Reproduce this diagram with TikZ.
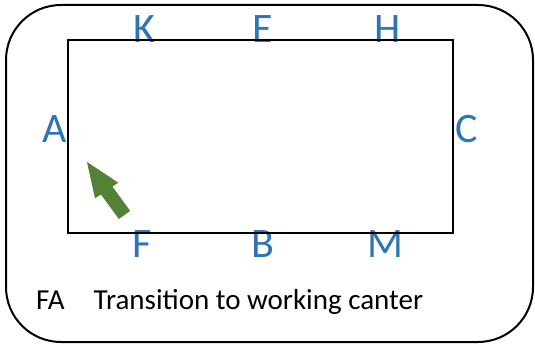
\documentclass[tikz,border=0pt]{standalone}
\usepackage{fontspec}
\setmainfont{Carlito}
\definecolor{letterblue}{HTML}{2E75B6}
\definecolor{arrowgreen}{HTML}{548235}
\begin{document}
\begin{tikzpicture}[x=1pt,y=-1pt,
  markerletter/.style={inner sep=0pt,anchor=base,text=letterblue,font=\fontsize{42}{42}\selectfont},
  captiontext/.style={inner sep=0pt,anchor=base west,text=black,font=\fontsize{29}{29}\selectfont}]
\useasboundingbox (0,0) rectangle (535,344);
\draw[line width=2pt,rounded corners=55pt] (6,5) rectangle (533,342);
% letters
\node[markerletter] (K) at (144,43) {K};
\node[markerletter] (E) at (262.5,43) {E};
\node[markerletter] (H) at (387.5,43) {H};
\node[markerletter] (A) at (54.5,143) {A};
\node[markerletter] (C) at (467,143) {C};
\node[markerletter] (F) at (142.5,258) {F};
\node[markerletter] (B) at (263,258) {B};
\node[markerletter] (M) at (385,258) {M};
% arena
\draw[line width=2.5pt] (68,40) rectangle (453,233);
% arrow
\fill[arrowgreen] (87,162) -- (118.3,182.7) -- (112.4,186.5) -- (130.2,211)
  -- (118.8,219) -- (101,194.5) -- (95,198.3) -- cycle;
% caption
\node[captiontext] (fa) at (36,310) {FA};
\node[captiontext] (tr) at (93.5,310) {Transition to working canter};
\end{tikzpicture}
\end{document}
